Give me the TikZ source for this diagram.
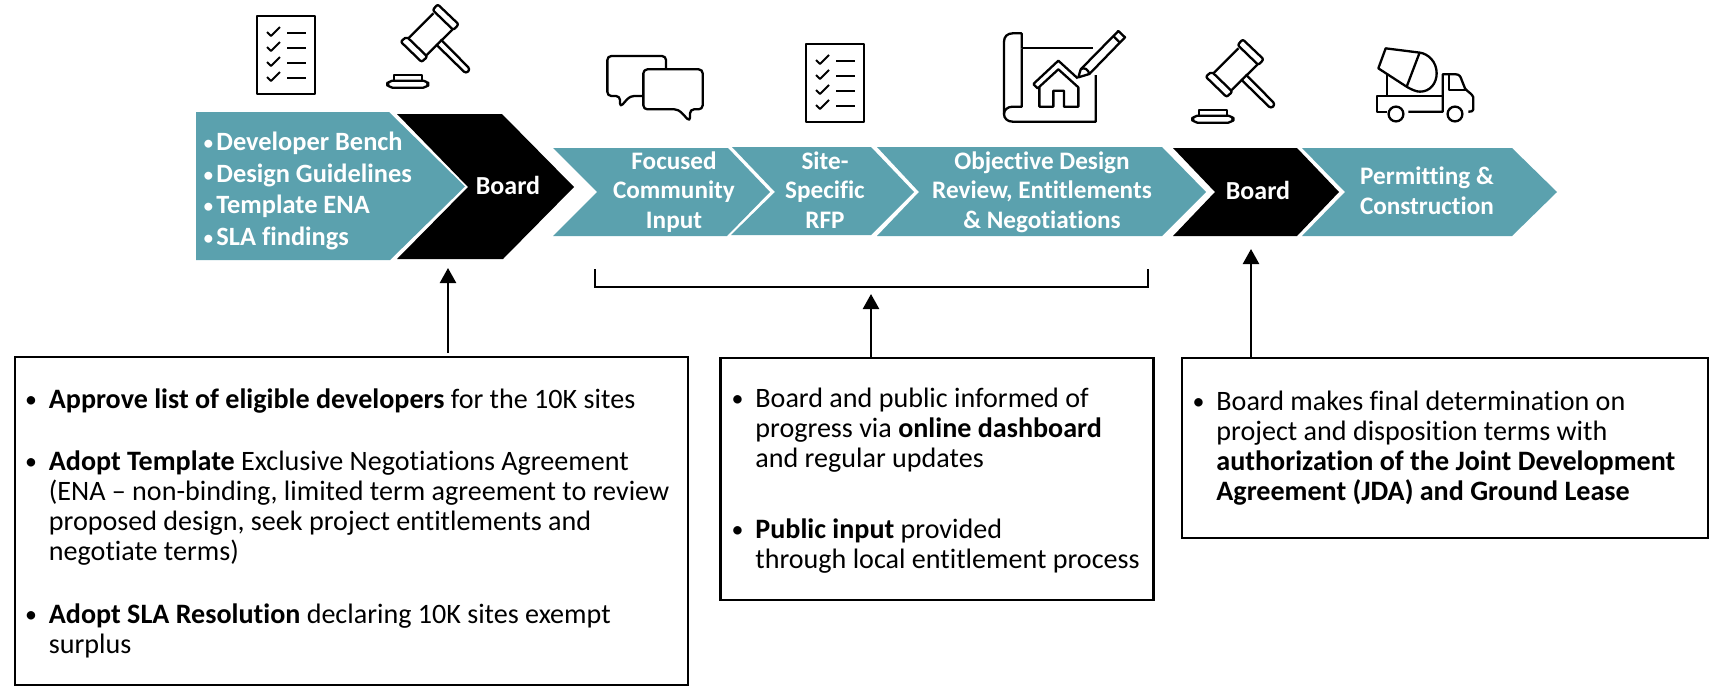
\documentclass[tikz,border=0pt]{standalone}
\usepackage{fontspec}
\setmainfont[Ligatures=CommonOff]{Carlito}
\usetikzlibrary{arrows.meta}
\definecolor{tealc}{HTML}{5BA1AE}
\newcommand\bul{\llap{\raisebox{0.2pt}{\scalebox{0.85}{\mdseries •}}\kern 6pt}}
\newcommand\tbul{\llap{\scalebox{0.85}{\mdseries •}\kern 1.2pt}}
\tikzset{
  tealshape/.style={fill=tealc,draw=none},
  blackshape/.style={fill=black,draw=none},
  chevtext/.style={text=white,font=\fontsize{12.6}{14.6}\selectfont\bfseries,align=center,inner sep=0pt,anchor=base},
  listtext/.style={text=white,font=\fontsize{13.2}{15.75}\selectfont\bfseries,align=left,inner sep=0pt,anchor=base west},
  bodytext/.style={text=black,font=\fontsize{14.05}{15}\selectfont,align=left,inner sep=0pt,anchor=base west},
  infobox/.style={draw=black,line width=1.25pt,fill=white,inner sep=0pt,outer sep=0pt},
  pointer/.style={draw=black,line width=1.2pt,-{Triangle[width=8pt,length=7.5pt]}},
  icon/.style={draw=black,line width=1.15pt,line join=round,fill=none},
  zoomed/.style={x=0.166667pt,y=-0.166667pt}
}
\newcommand\checklisticon[2]{%
  \begin{scope}[shift={(#1,#2)},x=0.5pt,y=-0.5pt]
    \draw[icon] (0,0) rectangle (58,78);
    \foreach \yy in {0,15,30,45}{
      \draw[icon,line width=1pt] (10,16+\yy) -- (14,20+\yy) -- (23,11+\yy);
      \draw[icon,line width=1pt] (30,17+\yy) -- (49,17+\yy);
    }
  \end{scope}}
\newcommand\gavelicon[2]{%
  \begin{scope}[shift={(#1,#2)},zoomed]
    \draw[icon,rounded corners=1pt] (803,13) -- (866,73) -- (850,90) -- (788,30) -- cycle;
    \draw[icon,rounded corners=1pt] (710,110) -- (772,170) -- (755,186) -- (692,125) -- cycle;
    \draw[icon] (790,40) -- (717,113) (848,88) -- (770,165);
    \draw[icon,rounded corners=1.5pt] (812,118) -- (901,208) -- (888,221) -- (798,133);
    \draw[icon] (672,241) -- (672,226) -- (755,226) -- (755,241);
    \draw[icon,rounded corners=2.5pt] (652,242) rectangle (775,263);
  \end{scope}}
\begin{document}
\begin{tikzpicture}[x=0.5pt,y=-0.5pt]
\useasboundingbox (0,0) rectangle (1710,686);
% chevrons
\fill[tealshape] (196,112) -- (389,112) -- (465,186.5) -- (390,260) -- (196,260) -- cycle;
\fill[blackshape] (397,114) -- (502,114) -- (574,187) -- (503,259) -- (397,259) -- (468,187) -- cycle;
\fill[tealshape] (553,148) -- (728,148) -- (770,192) -- (727,236) -- (553,236) -- (597,192) -- cycle;
\fill[tealshape] (732,147) -- (871,147) -- (914,192) -- (871,235) -- (731,235) -- (775,192) -- cycle;
\fill[tealshape] (877,147) -- (1162,147) -- (1206,192) -- (1162,236) -- (877,236) -- (919,192) -- cycle;
\fill[blackshape] (1173,148) -- (1297,148) -- (1339,192) -- (1297,236) -- (1173,236) -- (1215,192) -- cycle;
\fill[tealshape] (1302,148) -- (1512,148) -- (1557,192) -- (1512,236) -- (1302,236) -- (1345,192) -- cycle;
% chevron texts (anchored at the last baseline)
\node[listtext] (list) at (216,245) {\tbul Developer Bench\\\tbul Design Guidelines\\\tbul Template ENA\\\tbul SLA findings};
\node[chevtext,font=\fontsize{13}{14.6}\selectfont\bfseries] (board1) at (508,194) {Board};
\node[chevtext] (focused) at (674,228) {Focused\\Community\\Input};
\node[chevtext] (site) at (825,228) {Site-\\Specific\\RFP};
\node[chevtext] (objective) at (1042,228) {Objective Design\\Review, Entitlements\\\& Negotiations};
\node[chevtext,font=\fontsize{13}{14.6}\selectfont\bfseries] (board2) at (1258,199) {Board};
\node[chevtext] (permit) at (1427,214) {Permitting \&\\Construction};
% boxes
\node[infobox,minimum width=336.5pt,minimum height=164pt] (box1) at (351.5,521) {};
\node[infobox,minimum width=216.5pt,minimum height=121pt] (box2) at (937,479) {};
\node[infobox,minimum width=263pt,minimum height=90pt] (box3) at (1445,448) {};
% box texts
\node[bodytext] (b1a) at (48.5,408) {\bul\textbf{Approve list of eligible developers} for the 10K sites};
\node[bodytext] (b1b) at (48.5,560) {\bul\textbf{Adopt Template} Exclusive Negotiations Agreement\\(ENA – non-binding, limited term agreement to review\\proposed design, seek project entitlements and\\negotiate terms)};
\node[bodytext] (b1c) at (48.5,653) {\bul\textbf{Adopt SLA Resolution} declaring 10K sites exempt\\surplus};
\node[bodytext] (b2a) at (755,467) {\bul Board and public informed of\\progress via \textbf{online dashboard}\\and regular updates};
\node[bodytext] (b2b) at (755,568) {\bul\textbf{Public input} provided\\through local entitlement process};
\node[bodytext] (b3a) at (1216,500) {\bul Board makes final determination on\\project and disposition terms with\\\textbf{authorization of the Joint Development}\\\textbf{Agreement (JDA) and Ground Lease}};
% bracket and arrows
\coordinate (brL) at (595,269);
\coordinate (brR) at (1148,269);
\coordinate (tip1) at (448,268);
\coordinate (tip2) at (871,294);
\coordinate (tip3) at (1251,249);
\draw[black,line width=1.3pt] (brL) -- (595,287) -- (1148,287) -- (brR);
\draw[pointer] (tip1 |- box1.north) ++(0,-4) -- (tip1);
\draw[pointer] (tip2 |- box2.north) -- (tip2);
\draw[pointer] (tip3 |- box3.north) -- (tip3);
% icons
\checklisticon{257}{16}
\checklisticon{806}{44}
\gavelicon{170}{0}
\gavelicon{975}{35}
% chat bubbles
\begin{scope}[shift={(170,0)},zoomed]
  \draw[icon,rounded corners=2pt] (1488,208) -- (1488,168) -- (1312,168) -- (1312,288) -- (1350,288) -- (1350,322) -- (1380,288) -- (1420,288);
  \draw[icon,rounded corners=2pt] (1420,208) -- (1598,208) -- (1598,328) -- (1560,328) -- (1560,365) -- (1525,328) -- (1420,328) -- cycle;
\end{scope}
% blueprint
\begin{scope}[shift={(660,0)},zoomed]
  \draw[icon] (1085,145) -- (1085,100) -- (1058,100) .. controls (1042,100) and (1032,110) .. (1032,125) -- (1032,342) .. controls (1032,355) and (1042,365) .. (1058,365) -- (1307,365) -- (1307,225);
  \draw[icon] (1085,145) -- (1300,145);
  \draw[icon] (1085,145) -- (1085,320) -- (1058,320) .. controls (1042,320) and (1032,330) .. (1032,342);
  \draw[icon] (1120,252) -- (1195,182) -- (1253,235);
  \draw[icon] (1120,252) -- (1133,265) -- (1195,208) -- (1255,262) -- (1255,320) -- (1212,320) -- (1212,272) -- (1180,272) -- (1180,320) -- (1138,320) -- (1138,262);
  \draw[icon] (1262,208) -- (1375,93) -- (1395,112) -- (1288,222);
  \draw[icon] (1360,108) -- (1380,128);
  \draw[icon] (1255,232) -- (1262,208) .. controls (1272,200) and (1285,208) .. (1288,222) -- cycle;
\end{scope}
% truck
\begin{scope}[shift={(1370,40)},zoomed]
  \draw[icon] (47,25) -- (25,85) -- (105,137) .. controls (125,150) and (140,155) .. (150,155) .. controls (180,155) and (200,130) .. (200,100) .. controls (200,65) and (175,42) .. (150,38) -- cycle;
  \draw[icon] (148,40) -- (110,140);
  \draw[icon] (50,100) -- (50,168);
  \draw[icon] (52,215) -- (22,215) -- (22,168) -- (218,168);
  \draw[icon] (115,215) -- (218,215) -- (218,103) -- (258,103) .. controls (268,103) and (272,110) .. (275,120) -- (285,145) .. controls (288,152) and (308,162) .. (310,172) -- (310,208) .. controls (310,213) and (305,215) .. (295,215);
  \draw[icon] (238,105) -- (238,150) -- (287,150);
  \draw[icon] (78,222) circle[radius=3.7pt];
  \draw[icon] (255,222) circle[radius=3.7pt];
\end{scope}
\end{tikzpicture}
\end{document}
